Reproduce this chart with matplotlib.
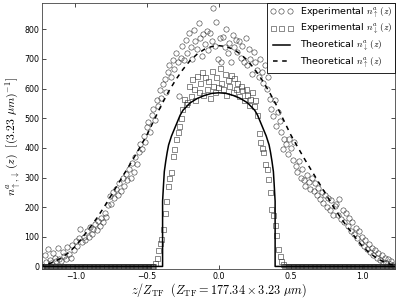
import numpy as np
import matplotlib
matplotlib.use('Agg')
import matplotlib.pyplot as plt

plt.rcParams['mathtext.fontset'] = 'cm'
plt.rcParams['font.family'] = 'DejaVu Sans'

Z_TF = 177.34  # bins de 3.23 um

# --- dados experimentais: spin up (circulos), bins pares -215..215
up_bins = np.arange(-215, 216, 2)
up_vals = [
    38, 15, 58, 22, 10, 47, 30, 18, 62, 26, 20, 50, 36, 24, 65, 42, 30, 72, 55, 85,
    70, 96, 127, 82, 100, 90, 118, 98, 132, 110, 125, 142, 122, 155, 138, 165, 150, 180, 168, 208,
    238, 212, 250, 230, 262, 240, 280, 255, 300, 270, 312, 290, 330, 300, 350, 320, 369, 345, 385, 413,
    395, 440, 420, 470, 486, 455, 510, 530, 495, 560, 540, 597, 570, 615, 631, 590, 655, 681, 640, 698,
    665, 720, 690, 575, 705, 745, 698, 765, 720, 788, 740, 700, 798, 760, 735, 822, 770, 710, 785, 750,
    795, 730, 788, 760, 872, 745, 826, 700, 770, 690, 775, 740, 800, 720, 755, 690, 780, 740, 765, 725,
    760, 705, 745, 690, 770, 680, 735, 700, 650, 725, 690, 664, 640, 700, 655, 620, 680, 600, 640, 564,
    530, 507, 560, 473, 520, 490, 455, 396, 430, 413, 380, 430, 400, 360, 420, 340, 318, 355, 300, 330,
    290, 272, 310, 285, 260, 300, 255, 280, 240, 265, 228, 250, 215, 240, 200, 230, 190, 225, 175, 205,
    210, 175, 228, 160, 190, 150, 180, 135, 165, 120, 150, 110, 130, 95, 118, 80, 100, 70, 90, 60,
    75, 48, 62, 40, 55, 30, 45, 22, 38, 15, 30, 10, 25, 8, 18, 5,
]

# --- dados experimentais: spin down (quadrados), centro em bins impares
down_bins = np.arange(-79, 80, 2)
down_vals = [
    12, 30, 55, 80, 94, 127, 180, 222, 273, 300, 318, 374, 396, 430, 452, 473, 500, 530, 564, 548,
    555, 610, 575, 631, 600, 560, 642, 590, 620, 655, 580, 640, 600, 625, 570, 660, 610, 590, 640, 605,
    671, 620, 600, 650, 580, 630, 610, 645, 590, 637, 600, 620, 575, 610, 597, 560, 600, 580, 545, 564,
    590, 541, 560, 510, 450, 419, 400, 385, 345, 329, 295, 251, 195, 174, 139, 105, 60, 35, 20, 8,
]
# fora da nuvem a densidade de spin down e zero
down_zero_bins = np.concatenate([np.arange(-220, -80), np.arange(81, 221)])
down_zero_vals = np.zeros(len(down_zero_bins))

# --- teoria (metade positiva, perfil simetrico)
th_up_x = [0, 0.05, 0.1, 0.15, 0.2, 0.25, 0.3, 0.35, 0.4, 0.45, 0.5, 0.55, 0.6,
           0.65, 0.7, 0.75, 0.8, 0.85, 0.9, 0.95, 1.0, 1.05, 1.1, 1.15, 1.2, 1.25]
th_up_y = [745, 742, 733, 717, 695, 665, 630, 590, 545, 495, 445, 402, 360,
           320, 280, 240, 200, 163, 130, 98, 68, 45, 28, 15, 6, 3]

th_dn_x = [0, 0.05, 0.1, 0.15, 0.2, 0.25, 0.27, 0.3, 0.33, 0.35, 0.36, 0.37,
           0.38, 0.385, 0.392, 0.392, 1.25]
th_dn_y = [586, 584, 577, 567, 552, 527, 510, 475, 440, 410, 385, 355,
           320, 280, 220, 0, 0]


def mirror(x, y):
    x = np.asarray(x, float)
    y = np.asarray(y, float)
    return np.concatenate([-x[::-1], x[1:]]), np.concatenate([y[::-1], y[1:]])


fig = plt.figure(figsize=(3.99, 2.99), dpi=100)
ax = fig.add_axes([0.106, 0.099, 0.885, 0.892])

mk = dict(mfc='none', mec='#333333', mew=0.4)
ax.plot(up_bins / Z_TF, up_vals, 'o', ms=3.8, **mk,
        label=r'Experimental $n^a_{\uparrow}\,(z)$')
ax.plot(np.concatenate([down_bins, down_zero_bins]) / Z_TF,
        np.concatenate([down_vals, down_zero_vals]), 's', ms=3.6, **mk,
        label=r'Experimental $n^a_{\downarrow}\,(z)$')

xd, yd = mirror(th_dn_x, th_dn_y)
ax.plot(xd, yd, '-', color='k', lw=1.1, label=r'Theoretical $n^a_{\downarrow}\,(z)$')
xu, yu = mirror(th_up_x, th_up_y)
ax.plot(xu, yu, '--', color='k', lw=1.1, dashes=(3, 3),
        label=r'Theoretical $n^a_{\uparrow}\,(z)$')

ax.set_xlim(-1.23, 1.23)
ax.set_ylim(-10, 890)
ax.set_xticks([-1.0, -0.5, 0.0, 0.5, 1.0])
ax.set_yticks(range(0, 801, 100))
ax.tick_params(direction='in', top=True, right=True, labelsize=5.7,
               length=3, width=0.5, pad=2)
for s in ax.spines.values():
    s.set_linewidth(0.6)
    s.set_color('#444444')

ax.set_xlabel(r'$z/Z_{\rm TF}\ \ (Z_{\rm TF}=177.34\times 3.23\ \mu m)$',
              fontsize=8.8, labelpad=0)
ax.set_ylabel(r'$n^a_{\uparrow,\downarrow}\,(z)\ \ [(3.23\ \mu m)^{-1}]$',
              fontsize=8.5, labelpad=1)

leg = ax.legend(loc='upper right', fontsize=6.8, numpoints=3, fancybox=False,
                borderaxespad=0, handlelength=2.4, labelspacing=0.3,
                handletextpad=0.8, borderpad=0.3, framealpha=1)
leg.get_frame().set_edgecolor('k')
leg.get_frame().set_linewidth(0.6)

fig.savefig('out.png', dpi=100)
